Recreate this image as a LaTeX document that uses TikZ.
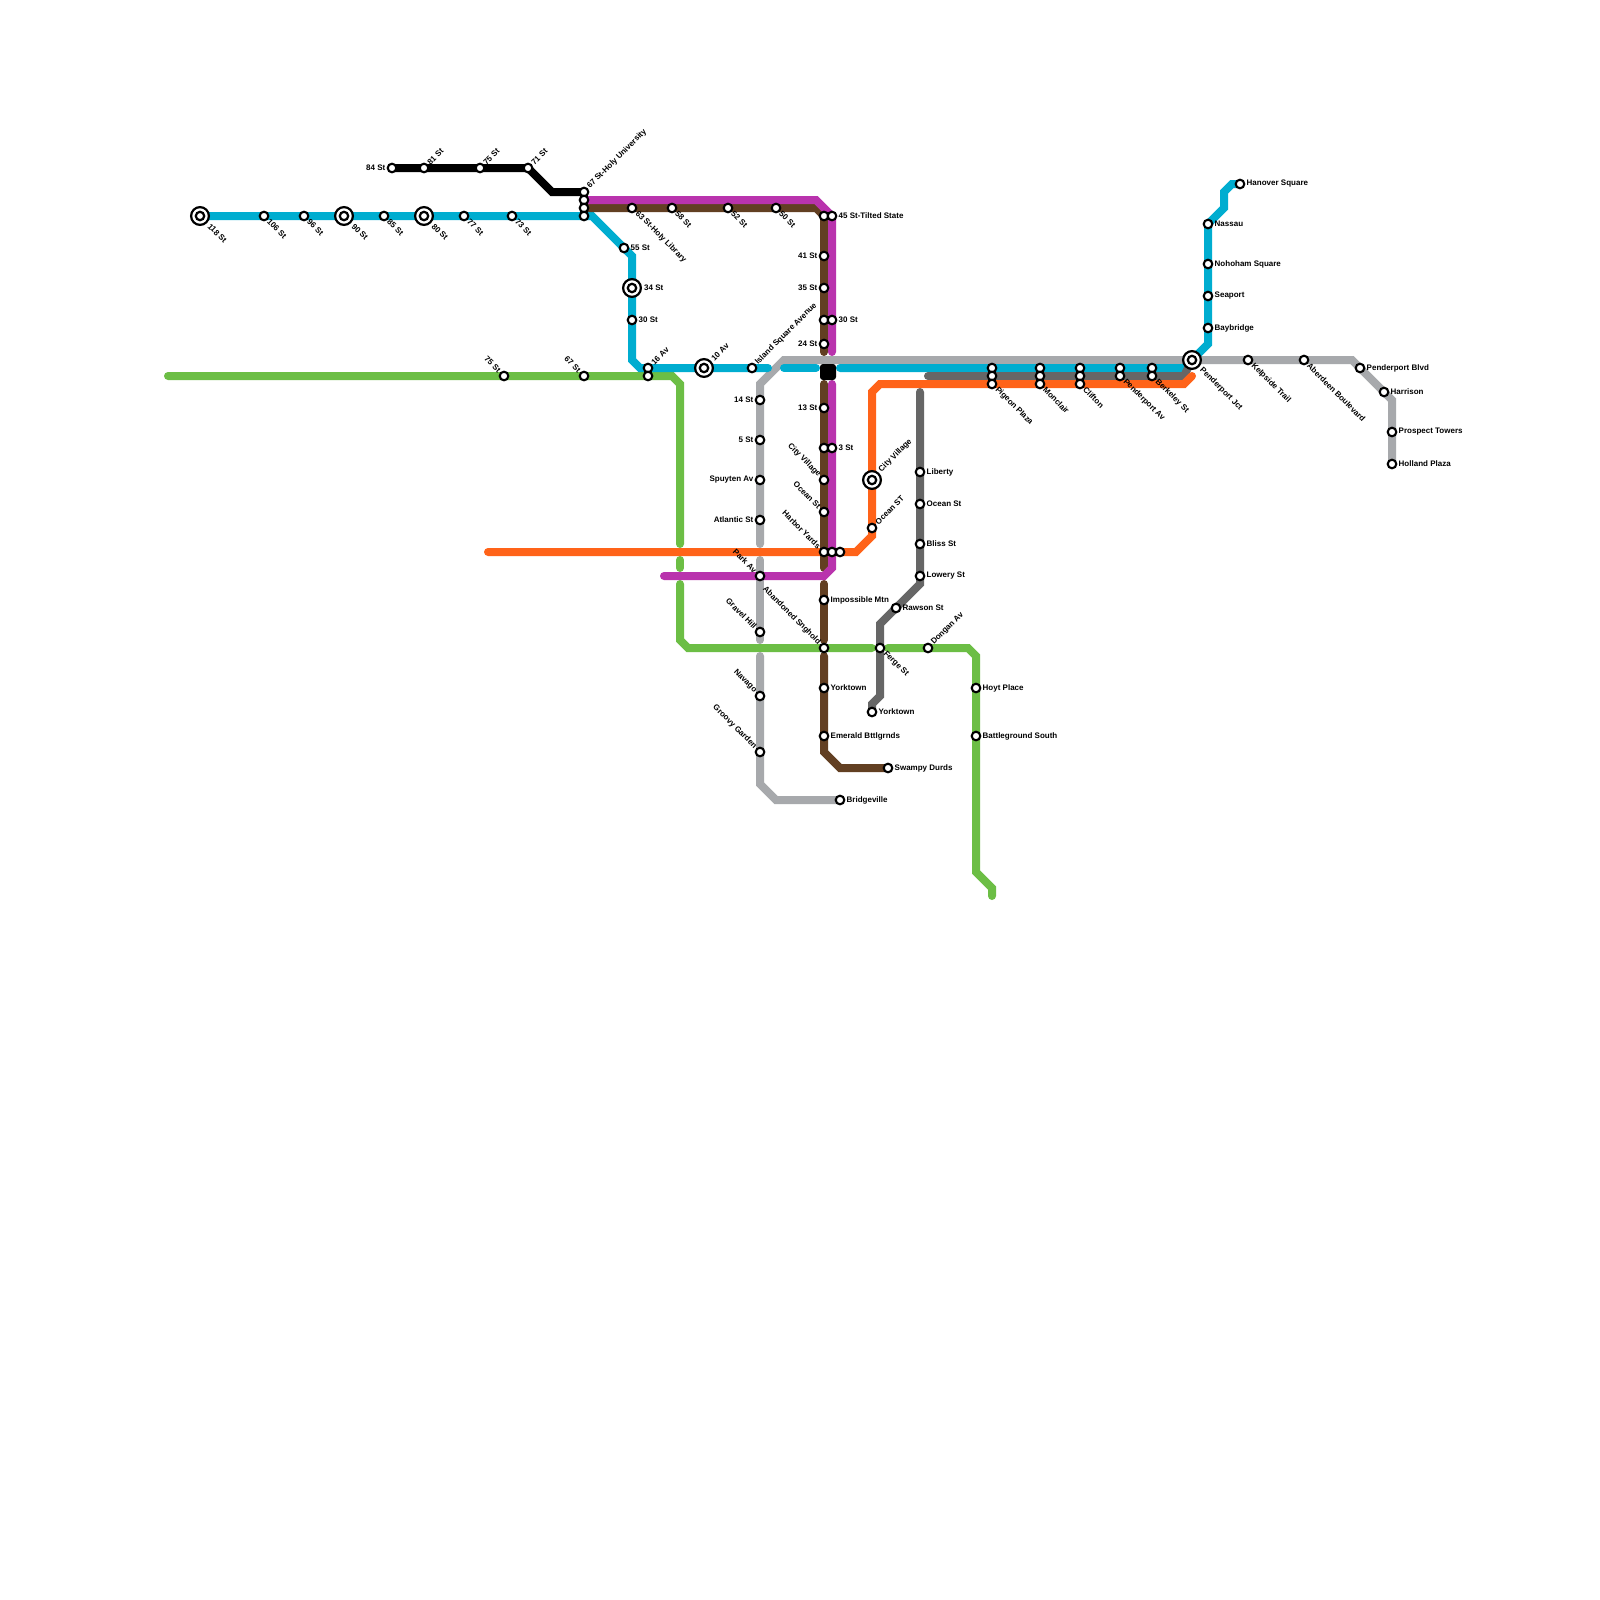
\documentclass[tikz,border=0pt]{standalone}
\usepackage{fontspec}
\setmainfont{Liberation Sans}
\pgfdeclarelayer{lines}
\pgfsetlayers{lines,main}
\definecolor{cblue}{HTML}{00ADD0}
\definecolor{cgreen}{HTML}{6CBE45}
\definecolor{corange}{HTML}{FF6319}
\definecolor{cpurple}{HTML}{B933AD}
\definecolor{cgray}{HTML}{A7A9AC}
\definecolor{cdark}{HTML}{666666}
\definecolor{cbrown}{HTML}{623F22}
\definecolor{cyell}{HTML}{FCCC0A}
\tikzset{
  stopnode/.style={circle,draw=black,fill=white,line width=2.1pt,minimum size=8.6pt,inner sep=0pt},
  hubouter/.style={circle,draw=black,fill=white,line width=2.2pt,minimum size=17.8pt,inner sep=0pt},
  hubinner/.style={circle,draw=black,fill=white,line width=2.2pt,minimum size=8.4pt,inner sep=0pt},
  metro/.style={line width=8pt,line cap=round,line join=miter},
  txt/.style={font=\fontsize{8}{9}\selectfont\bfseries,inner sep=0pt,text=black},
  lR/.style={txt,anchor=west},
  lL/.style={txt,anchor=east},
  lU/.style={txt,rotate=45,anchor=west},
  lD/.style={txt,rotate=-45,anchor=west},
  lB/.style={txt,rotate=-45,anchor=east},
}
% plain stop without label
\newcommand\stA[3]{\node[stopnode] (#1) at (#2,#3) {};}
% stop with label: id x y
\newcommand\stR[4]{\stA{#1}{#2}{#3}\node[lR] (#1t) at ([shift={(6.5,0)}]#1.center) {#4};}
\newcommand\stL[4]{\stA{#1}{#2}{#3}\node[lL] (#1t) at ([shift={(-6.5,0)}]#1.center) {#4};}
\newcommand\stU[4]{\stA{#1}{#2}{#3}\node[lU] (#1t) at ([shift={(4.5,-4.5)}]#1.center) {#4};}
\newcommand\stD[4]{\stA{#1}{#2}{#3}\node[lD] (#1t) at ([shift={(4.5,4.5)}]#1.center) {#4};}
\newcommand\stB[4]{\stA{#1}{#2}{#3}\node[lB] (#1t) at ([shift={(-4.5,-4.5)}]#1.center) {#4};}
\newcommand\hub[3]{\node[hubouter] (#1) at (#2,#3) {};\node[hubinner] (#1i) at (#2,#3) {};}
\begin{document}
\begin{tikzpicture}[x=1pt,y=-1pt]
\useasboundingbox (0,0) rectangle (1600,1600);
% blue, west
\hub{a118}{200}{216}\node[lD] (a118t) at ([shift={(9,9)}]a118.center) {118 St};
\stD{a106}{264}{216}{106 St}
\stD{a96}{304}{216}{96 St}
\hub{a90}{344}{216}\node[lD] (a90t) at ([shift={(9,9)}]a90.center) {90 St};
\stD{a85}{384}{216}{85 St}
\hub{a80}{424}{216}\node[lD] (a80t) at ([shift={(9,9)}]a80.center) {80 St};
\stD{a77}{464}{216}{77 St}
\stD{a73}{512}{216}{73 St}
% black
\stL{b84}{392}{168}{84 St}
\stU{b81}{424}{168}{81 St}
\stU{b75}{480}{168}{75 St}
\stU{b71}{528}{168}{71 St}
\stU{b67}{584}{192}{67 St-Holy University}
\stA{c1}{584}{200}
\stA{c2}{584}{208}
\stA{c3}{584}{216}
% blue, south
\stR{d55}{624}{248}{55 St}
\hub{d34}{632}{288}\node[lR] (d34t) at ([shift={(12,0)}]d34.center) {34 St};
\stR{d30}{632}{320}{30 St}
\stU{d16}{648}{368}{16 Av}
\stA{e16}{648}{376}
\stB{e75}{504}{376}{75 St}
\stB{e67}{584}{376}{67 St}
\hub{d10}{704}{368}\node[lU] (d10t) at ([shift={(8.5,-8.5)}]d10.center) {10 Av};
\stU{d12}{752}{368}{Island Square Avenue}
% brown top
\stD{f63}{632}{208}{63 St-Holy Library}
\stD{f58}{672}{208}{58 St}
\stD{f52}{728}{208}{52 St}
\stD{f50}{776}{208}{50 St}
% brown / purple trunk
\stA{g45}{824}{216}
\stR{h45}{832}{216}{45 St-Tilted State}
\stL{g41}{824}{256}{41 St}
\stL{g35}{824}{288}{35 St}
\stA{g30}{824}{320}
\stR{h30}{832}{320}{30 St}
\stL{g24}{824}{344}{24 St}
\stL{g13}{824}{408}{13 St}
\stA{g3}{824}{448}
\stR{h3}{832}{448}{3 St}
\stB{g48}{824}{480}{City Village}
\stB{g51}{824}{512}{Ocean St}
\stB{g55}{824}{552}{Harbor Yards}
\stA{h55}{832}{552}
\stA{i55}{840}{552}
\stR{g60}{824}{600}{Impossible Mtn}
\stB{g64}{824}{648}{Abandoned Snghold}
\stR{g68}{824}{688}{Yorktown}
\stR{g73}{824}{736}{Emerald Bttlgrnds}
\stR{g76}{888}{768}{Swampy Durds}
% gray west
\stL{j14}{760}{400}{14 St}
\stL{j5}{760}{440}{5 St}
\stL{j48}{760}{480}{Spuyten Av}
\stL{j52}{760}{520}{Atlantic St}
\stB{j57}{760}{576}{Park Av}
\stB{j63}{760}{632}{Gravel Hill}
\stB{j69}{760}{696}{Navago}
\stB{j75}{760}{752}{Groovy Garden}
\stR{j80}{840}{800}{Bridgeville}
% orange and dark
\hub{k48}{872}{480}\node[lU] (k48t) at ([shift={(8,-9)}]k48.center) {City Village};
\stU{k52}{872}{528}{Ocean ST}
\stR{m47}{920}{472}{Liberty}
\stR{m50}{920}{504}{Ocean St}
\stR{m54}{920}{544}{Bliss St}
\stR{m57}{920}{576}{Lowery St}
\stR{m60}{896}{608}{Rawson St}
\stD{m64}{880}{648}{Ferge St}
\stR{m71}{872}{712}{Yorktown}
% green east
\stU{n92}{928}{648}{Dongan Av}
\stR{n68}{976}{688}{Hoyt Place}
\stR{n73}{976}{736}{Battleground South}
% east cluster
\stA{p1a}{992}{368}\stA{p1b}{992}{376}\stD{p1c}{992}{384}{Pigeon Plaza}
\stA{p2a}{1040}{368}\stA{p2b}{1040}{376}\stD{p2c}{1040}{384}{Monclair}
\stA{p3a}{1080}{368}\stA{p3b}{1080}{376}\stD{p3c}{1080}{384}{Clifton}
\stA{p4a}{1120}{368}\stD{p4b}{1120}{376}{Penderport Av}
\stA{p5a}{1152}{368}\stD{p5b}{1152}{376}{Berkeley St}
\hub{q0}{1192}{360}\node[lD] (q0t) at ([shift={(9,9)}]q0.center) {Penderport Jct};
\stD{q1}{1248}{360}{Kelpside Trail}
\stD{q2}{1304}{360}{Aberdeen Boulevard}
\stR{q3}{1360}{368}{Penderport Blvd}
\stR{q4}{1384}{392}{Harrison}
\stR{q5}{1392}{432}{Prospect Towers}
\stR{q6}{1392}{464}{Holland Plaza}
\stR{r1}{1208}{328}{Baybridge}
\stR{r2}{1208}{296}{Seaport}
\stR{r3}{1208}{264}{Nohoham Square}
\stR{r4}{1208}{224}{Nassau}
\stR{r5}{1240}{184}{Hanover Square}
% interchange block
\node[fill=black,rounded corners=3pt,minimum size=16pt,inner sep=0pt] (xfer) at (828,372) {};
\begin{pgfonlayer}{lines}
  \fill[white] (0,0) rectangle (1600,1600);
  % green
  \coordinate (gw) at (168,376);
  \coordinate (gs) at (992,896);
  \draw[metro,cgreen] (gw) -- (672,376) -- (680,384) -- (680,544);
  \draw[metro,cgreen] (680,560) -- (680,568);
  \draw[metro,cgreen] (680,584) -- (680,640) -- (688,648) -- (872,648);
  \draw[metro,cgreen] (888,648) -- (968,648) -- (976,656) -- (976,872) -- (992,888) -- (gs);
  % gray
  \draw[metro,cgray] (760,544) -- (j14.center) -- (760,384) -- (784,360) -- (1352,360) -- (q4.center) -- (1392,400) -- (q6.center);
  \draw[metro,cgray] (760,560) -- (760,640);
  \draw[metro,cgray] (760,656) -- (760,784) -- (776,800) -- (j80.center);
  % blue
  \draw[metro,cblue] (a118.center) -- (c3.center) -- (592,216) -- (632,256) -- (632,360) -- (640,368) -- (768,368);
  \draw[metro,cblue] (784,368) -- (816,368);
  \draw[metro,cblue] (840,368) -- (1184,368) -- (1208,344) -- (r4.center) -- (1224,208) -- (1224,192) -- (1232,184) -- (r5.center);
  % dark gray
  \draw[metro,cdark] (928,376) -- (1184,376) -- (q0.center);
  \draw[metro,cdark] (920,392) -- (920,584) -- (880,624) -- (880,696) -- (872,704) -- (m71.center);
  % black
  \draw[metro,black] (b84.center) -- (b71.center) -- (552,192) -- (b67.center);
  % brown
  \draw[metro,cbrown] (c2.center) -- (816,208) -- (824,216) -- (824,352);
  \draw[metro,cbrown] (824,384) -- (824,568);
  \draw[metro,cbrown] (824,584) -- (824,640);
  \draw[metro,cbrown] (824,656) -- (824,752) -- (840,768) -- (g76.center);
  % purple
  \draw[metro,cpurple] (c1.center) -- (816,200) -- (832,216) -- (832,352);
  \draw[metro,cpurple] (832,384) -- (832,568) -- (824,576) -- (664,576);
  % yellow stub
  \draw[metro,cyell] (k48.center) -- (878,480);
  % orange
  \draw[metro,corange] (488,552) -- (856,552) -- (872,536) -- (872,392) -- (880,384) -- (1184,384) -- (1192,376);
\end{pgfonlayer}
\end{tikzpicture}
\end{document}
